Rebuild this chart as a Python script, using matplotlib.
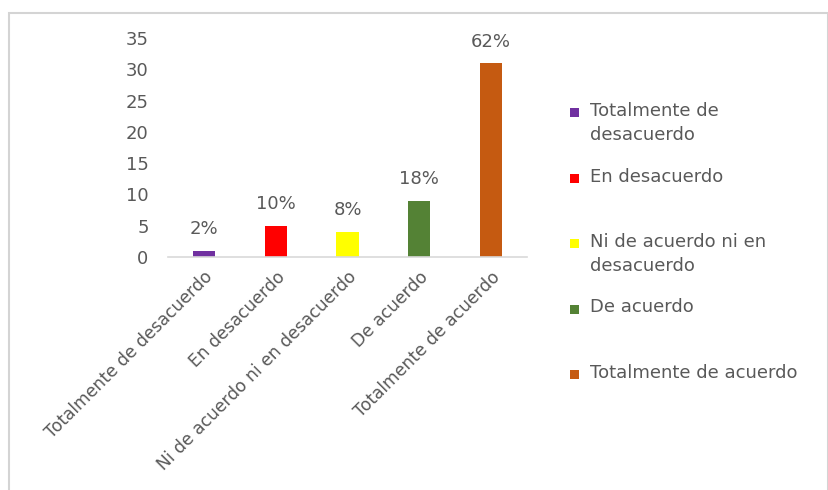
import matplotlib
matplotlib.use("Agg")
import matplotlib.pyplot as plt
from matplotlib.patches import Rectangle

categories = [
    "Totalmente de desacuerdo",
    "En desacuerdo",
    "Ni de acuerdo ni en desacuerdo",
    "De acuerdo",
    "Totalmente de acuerdo",
]
legend_labels = [
    "Totalmente de\ndesacuerdo",
    "En desacuerdo",
    "Ni de acuerdo ni en\ndesacuerdo",
    "De acuerdo",
    "Totalmente de acuerdo",
]
counts = [1, 5, 4, 9, 31]
percent_labels = ["2%", "10%", "8%", "18%", "62%"]
colors = ["#7030A0", "#FF0000", "#FFFF00", "#548235", "#C55A11"]
y_ticks = [0, 5, 10, 15, 20, 25, 30, 35]

text_color = "#595959"
fs = 13
plt.rcParams["font.family"] = ["DejaVu Sans"]

fig = plt.figure(figsize=(8.29, 4.90), dpi=100)
ax = fig.add_axes([0.2027, 0.4755, 0.4330, 0.4469])

x = range(len(categories))
ax.bar(x, counts, width=0.31, color=colors)

for xi, v, lab in zip(x, counts, percent_labels):
    ax.annotate(lab, (xi, v), xytext=(0, 9), textcoords="offset points",
                ha="center", va="bottom", fontsize=fs, color=text_color)

ax.set_xlim(-0.5, len(categories) - 0.5)
ax.set_ylim(0, 35)
ax.set_yticks(y_ticks)
ax.set_xticks(list(x))
ax.set_xticklabels(categories, rotation=45, ha="right", rotation_mode="anchor",
                   fontsize=12.3, color=text_color)
ax.tick_params(axis="y", length=0, pad=14, labelsize=fs, labelcolor=text_color)
ax.tick_params(axis="x", length=0, pad=8)

for s in ["top", "right", "left"]:
    ax.spines[s].set_visible(False)
ax.spines["bottom"].set_color("#D9D9D9")
ax.spines["bottom"].set_linewidth(1.2)

# Legend drawn as evenly spaced slots, text top-aligned beside a square key
fig_w, fig_h = 829, 490
slot_top = 102
slot_step = 65.5
for i, (lab, c) in enumerate(zip(legend_labels, colors)):
    ytop = slot_top + i * slot_step
    fig.patches.append(Rectangle((570 / fig_w, 1 - (ytop + 15) / fig_h),
                                 9 / fig_w, 9 / fig_h, transform=fig.transFigure,
                                 facecolor=c, edgecolor="none"))
    fig.text(590 / fig_w, 1 - ytop / fig_h, lab, ha="left", va="top",
             fontsize=fs, color=text_color, linespacing=1.4)

# Light frame around the chart area
fig.patches.append(Rectangle((9 / fig_w, -0.05), (828 - 9) / fig_w, 1.05 - 13 / fig_h,
                             transform=fig.transFigure, facecolor="none",
                             edgecolor="#D4D4D4", linewidth=1.5))

fig.savefig("out.png", dpi=100)
